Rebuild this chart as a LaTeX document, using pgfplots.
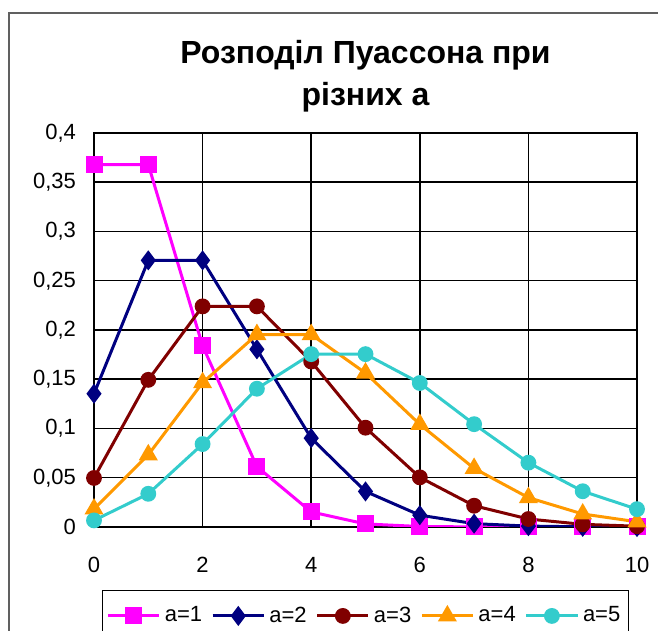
\documentclass[border=0pt]{standalone}
\usepackage{fontspec}
\setmainfont{Liberation Sans}
\usepackage{pgfplots}
\pgfplotsset{compat=1.18}
\definecolor{cA}{HTML}{FF00FF}
\definecolor{cB}{HTML}{000080}
\definecolor{cC}{HTML}{800000}
\definecolor{cD}{HTML}{FF9900}
\definecolor{cE}{HTML}{33CCCC}
\definecolor{frameC}{HTML}{606060}
\begin{document}
\begin{tikzpicture}
\begin{axis}[
  at={(47pt,52pt)}, anchor=south west,
  scale only axis, width=271.5pt, height=197pt,
  xmin=0, xmax=10, ymin=0, ymax=0.4,
  xtick={0,2,...,10}, ytick={0,0.05,...,0.41},
  grid=major, major grid style={black, line width=0.75pt},
  axis line style={black, line width=0.75pt},
  major tick length=0pt,
  /pgf/number format/.cd, fixed, use comma, precision=2, assume math mode=true,
  /pgfplots/.cd,
  tick label style={font=\fontsize{11}{13}\selectfont},
  yticklabel style={xshift=-5.5pt},
  xticklabel style={yshift=-11.5pt},
  title={Розподіл Пуассона при\\різних а},
  title style={at={(0.5,1)}, anchor=center, yshift=22.5pt, align=center,
    font=\bfseries\fontsize{16}{21}\selectfont},
  every axis plot/.append style={line width=1.5pt},
  legend columns=5,
  legend style={at={(0.5,0)}, anchor=north, yshift=-31.5pt, draw=black, line width=0.75pt,
    font=\fontsize{11}{13}\selectfont, inner ysep=6pt, inner xsep=2pt,
    /tikz/every even column/.append style={column sep=2.5pt}},
  legend image code/.code={\draw[mark repeat=2,mark phase=2,#1] plot coordinates {(0cm,0cm) (0.45cm,0cm) (0.9cm,0cm)};},
]
\addplot[cA, mark=square*, mark size=3.5pt, mark options={solid}] coordinates {
(0,0.3679)(1,0.3679)(2,0.1839)(3,0.0613)(4,0.0153)(5,0.0031)(6,0.0005)(7,0.0001)(8,0.0000)(9,0.0000)(10,0.0000)};
\addlegendentry{a=1}
\addplot[cB, mark=diamond*, mark size=3.8pt] coordinates {
(0,0.1353)(1,0.2707)(2,0.2707)(3,0.1804)(4,0.0902)(5,0.0361)(6,0.0120)(7,0.0034)(8,0.0009)(9,0.0002)(10,0.0000)};
\addlegendentry{a=2}
\addplot[cC, mark=*, mark size=3.2pt] coordinates {
(0,0.0498)(1,0.1494)(2,0.2240)(3,0.2240)(4,0.1680)(5,0.1008)(6,0.0504)(7,0.0216)(8,0.0081)(9,0.0027)(10,0.0008)};
\addlegendentry{a=3}
\addplot[cD, mark=triangle*, mark size=4pt] coordinates {
(0,0.0183)(1,0.0733)(2,0.1465)(3,0.1954)(4,0.1954)(5,0.1563)(6,0.1042)(7,0.0595)(8,0.0298)(9,0.0132)(10,0.0053)};
\addlegendentry{a=4}
\addplot[cE, mark=*, mark size=3.2pt] coordinates {
(0,0.0067)(1,0.0337)(2,0.0842)(3,0.1404)(4,0.1755)(5,0.1755)(6,0.1462)(7,0.1044)(8,0.0653)(9,0.0363)(10,0.0181)};
\addlegendentry{a=5}
\end{axis}
\draw[frameC, line width=1pt] (4.5pt,-10pt) -- (4.5pt,309pt) -- (340pt,309pt);
\pgfresetboundingbox
\useasboundingbox (0,0) rectangle (329pt,315.5pt);
\end{tikzpicture}
\end{document}
